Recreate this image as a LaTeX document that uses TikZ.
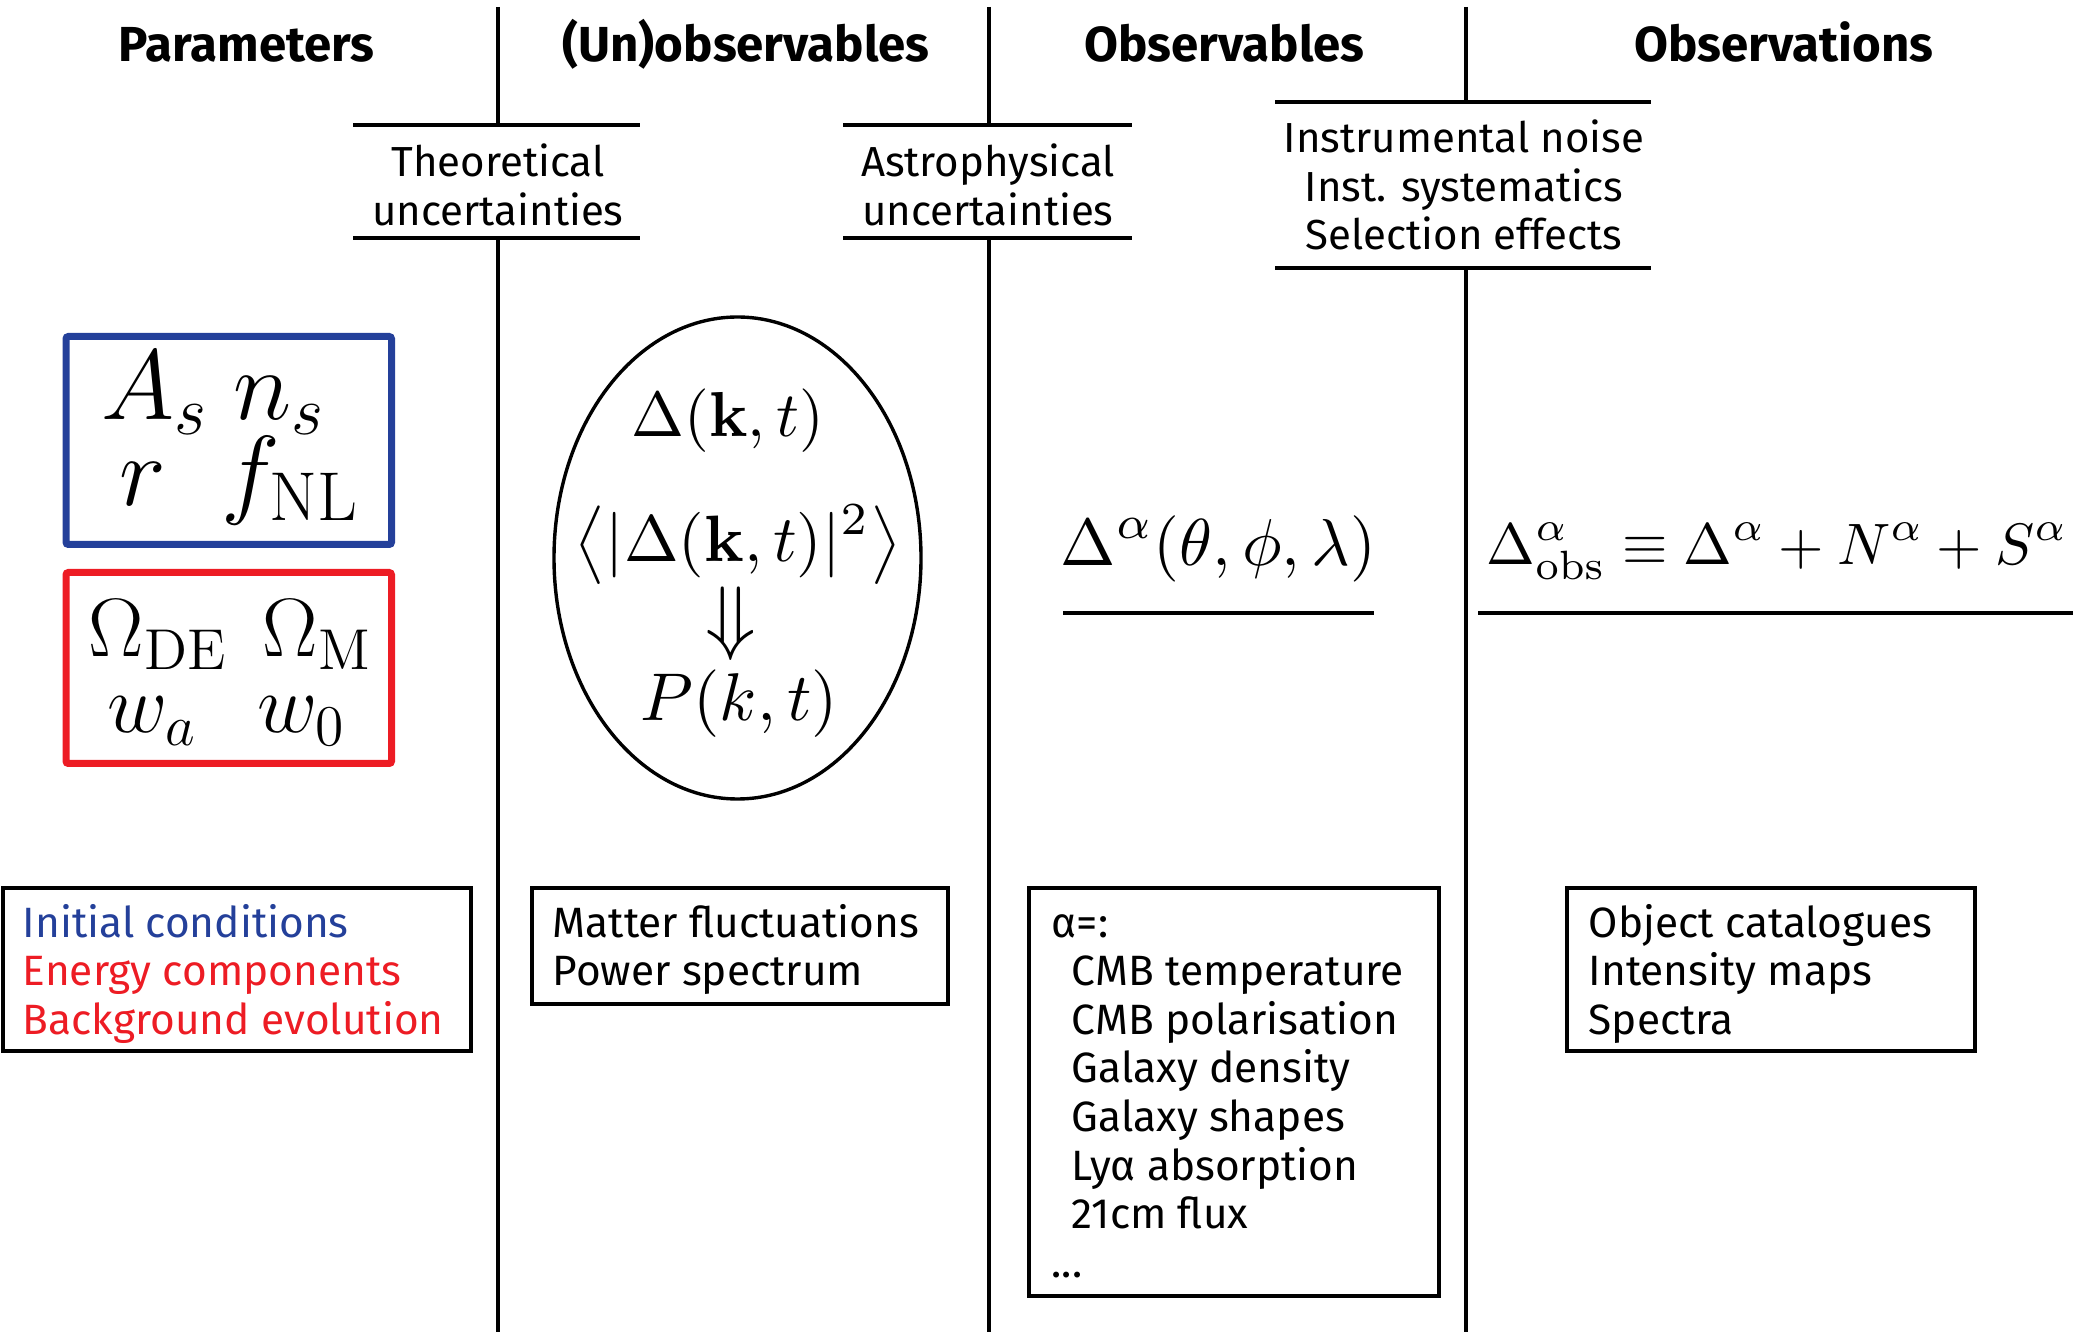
\documentclass[tikz,border=0pt]{standalone}
\usepackage[no-math]{fontspec}
\setmainfont{Fira Sans}
\usepackage{amsmath}
\usepackage{graphicx}
\usetikzlibrary{shapes.geometric}
\definecolor{mblue}{RGB}{36,64,154}
\definecolor{mred}{RGB}{237,28,36}
\newlength\pxu
\setlength\pxu{0.25pt}
\newcommand\fitw[2]{\resizebox{#1\pxu}{!}{$\displaystyle #2$}}
\begin{document}
\begin{tikzpicture}[x=0.25pt,y=-0.25pt,
  vline/.style={line width=0.8pt},
  bar/.style={line width=1.05pt},
  frame/.style={line width=1pt},
  cbox/.style={line width=1.75pt, rounded corners=0.6pt},
  hdr/.style={inner sep=0, anchor=base, font=\fontsize{12.3}{14}\selectfont\bfseries},
  lbl/.style={inner sep=0, anchor=base, font=\fontsize{10.5}{12.1}\selectfont},
  txt/.style={inner sep=0, anchor=base west, font=\fontsize{10.6}{12.15}\selectfont},
  mth/.style={inner sep=0, anchor=base west},
  bigm/.style={inner sep=0, anchor=base west, font=\fontsize{23.4}{27}\selectfont},
  redm/.style={inner sep=0, anchor=base west, font=\fontsize{21}{25}\selectfont}]
\useasboundingbox (0,0) rectangle (2076,1335);

% headers
\node[hdr] (hpar) at (246.5,62) {Parameters};
\node[hdr] (hunobs) at (746,62) {(Un)observables};
\node[hdr] (hobs) at (1224.5,62) {Observables};
\node[hdr] (hobsn) at (1784,62) {Observations};

% column separators and uncertainty bars
\draw[vline] (498,7) -- (498,125);
\draw[vline] (498,238) -- (498,1332);
\draw[vline] (989,7) -- (989,125);
\draw[vline] (989,238) -- (989,1332);
\draw[vline] (1466,7) -- (1466,102);
\draw[vline] (1466,268) -- (1466,1332);
\draw[bar] (353,125) -- (640,125);
\draw[bar] (353,238) -- (640,238);
\draw[bar] (843,125) -- (1132,125);
\draw[bar] (843,238) -- (1132,238);
\draw[bar] (1275,102) -- (1651,102);
\draw[bar] (1275,268) -- (1651,268);

\node[lbl] (theo) at (498,177) {\begin{tabular}[t]{@{}c@{}}Theoretical\\uncertainties\end{tabular}};
\node[lbl] (astro) at (988,177) {\begin{tabular}[t]{@{}c@{}}Astrophysical\\uncertainties\end{tabular}};
\node[lbl] (instr) at (1464,153) {\begin{tabular}[t]{@{}c@{}}Instrumental noise\\Inst. systematics\\Selection effects\end{tabular}};

% parameter boxes
\draw[cbox, mblue] (66,336.5) rectangle (391.5,544.5);
\draw[cbox, mred] (66,572.5) rectangle (391.5,763.5);
\node[bigm] (As) at (101,420) {$A_s$};
\node[bigm] (ns) at (233,420) {$n_s$};
\node[bigm] (r) at (119,506) {$r$};
\node[bigm] (fnl) at (221,506) {$f_{\mathrm{NL}}$};
\node[redm] (ode) at (88,657) {$\Omega_{\mathrm{DE}}$};
\node[redm] (om) at (262,657) {$\Omega_{\mathrm{M}}$};
\node[redm] (wa) at (107,733) {$w_a$};
\node[redm] (w0) at (257,733) {$w_0$};

% fluctuations ellipse
\node[draw, ellipse, line width=0.85pt, inner sep=0, minimum width=91.75pt, minimum height=120.5pt] (ell) at (737.5,558) {};
\node[mth] (dk) at (631,437) {\fitw{192}{\Delta(\mathbf{k},t)}};
\node[mth, anchor=center] (pk2) at (738,545) {\fitw{326}{\bigl\langle|\Delta(\mathbf{k},t)|^2\bigr\rangle}};
\node[inner sep=0, font=\fontsize{20}{24}\selectfont] (arr) at (731,624) {$\Downarrow$};
\node[mth] (pkt) at (640,721) {\fitw{197}{P(k,t)}};

% observables
\node[mth] (dalpha) at (1060,566) {\fitw{315}{\Delta^\alpha(\theta,\phi,\lambda)}};
\draw[bar] (1063,613) -- (1374,613);
\node[mth] (dobs) at (1486,565) {\fitw{581}{\Delta^\alpha_{\mathrm{obs}}\equiv\Delta^\alpha+N^\alpha+S^\alpha}};
\draw[bar] (1478,613) -- (2073,613);

% bottom boxes
\draw[frame] (2.7,888) rectangle (471,1051);
\node[txt] (t1) at (22,937) {\begin{tabular}[t]{@{}l@{}}\textcolor{mblue}{Initial conditions}\\\textcolor{mred}{Energy components}\\\textcolor{mred}{Background evolution}\end{tabular}};
\draw[frame] (532,888) rectangle (948,1004);
\node[txt] (t2) at (552,937) {\begin{tabular}[t]{@{}l@{}}Matter fluctuations\\Power spectrum\end{tabular}};
\draw[frame] (1029,888) rectangle (1439,1296);
\node[txt] (t3) at (1051,937) {\begin{tabular}[t]{@{}l@{}}α=:\\\hspace*{5pt}CMB temperature\\\hspace*{5pt}CMB polarisation\\\hspace*{5pt}Galaxy density\\\hspace*{5pt}Galaxy shapes\\\hspace*{5pt}Lyα absorption\\\hspace*{5pt}21cm flux\\...\end{tabular}};
\draw[frame] (1567,888) rectangle (1975,1051);
\node[txt] (t4) at (1588,937) {\begin{tabular}[t]{@{}l@{}}Object catalogues\\Intensity maps\\Spectra\end{tabular}};
\end{tikzpicture}
\end{document}
